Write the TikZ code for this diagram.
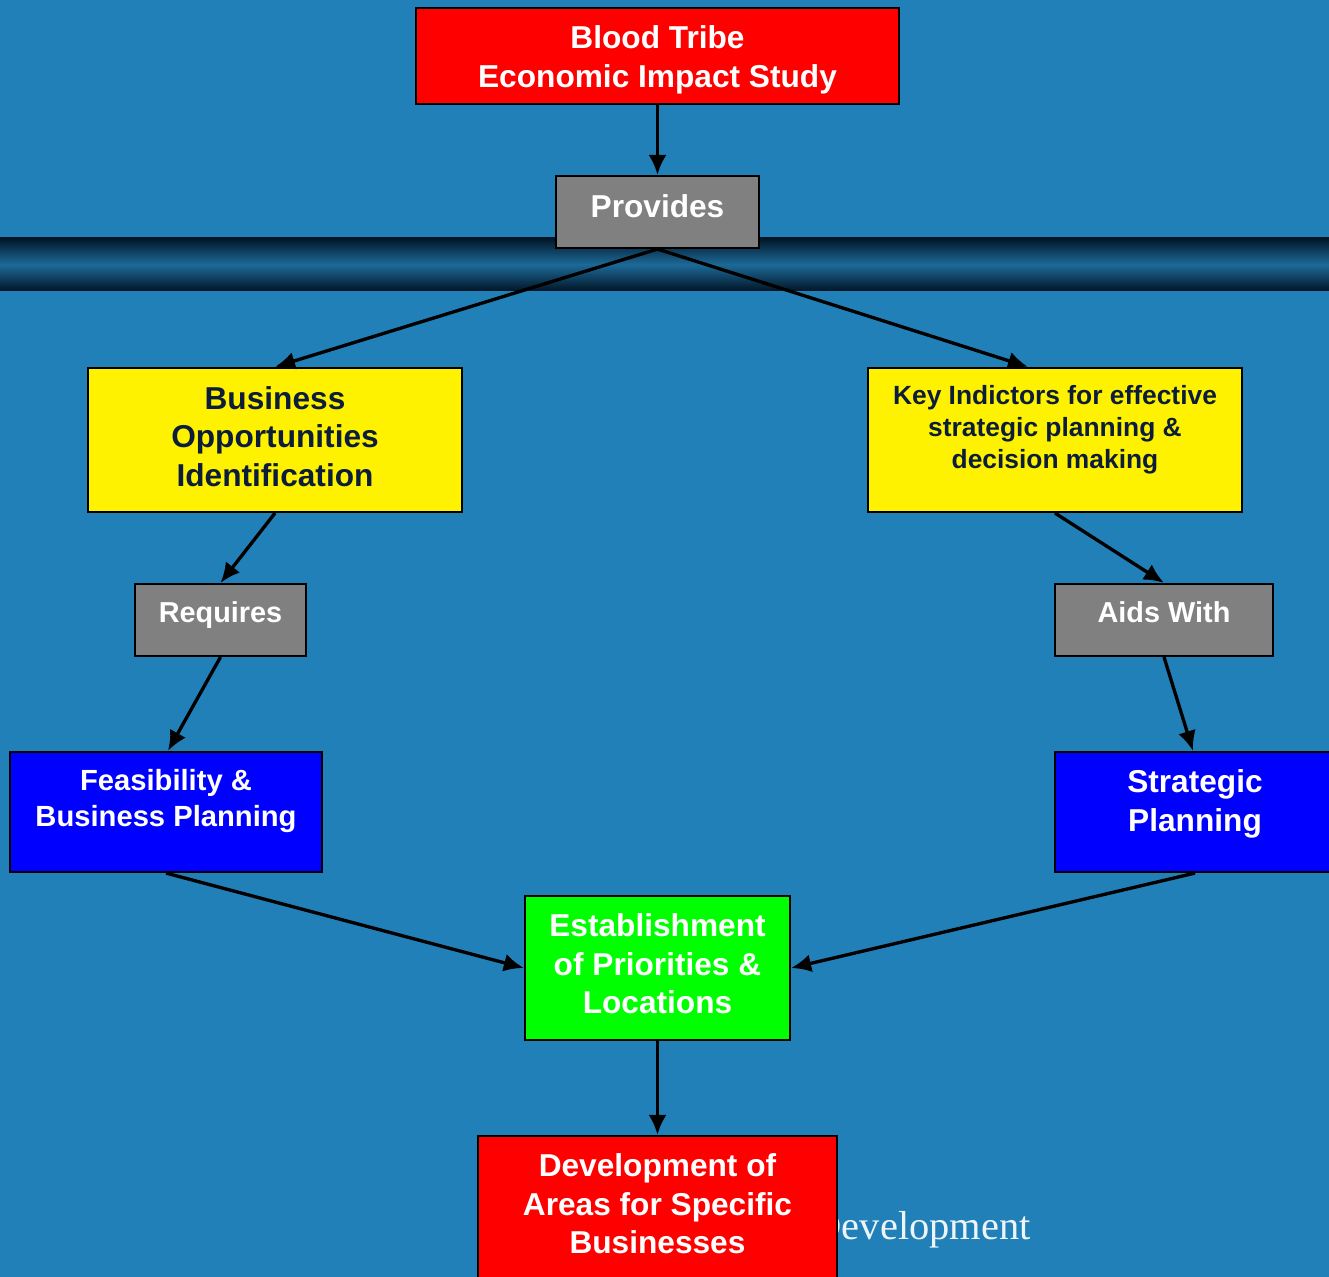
\documentclass[tikz,border=0pt]{standalone}
\usepackage{fontspec}
\setmainfont{Liberation Sans}
\newfontfamily\serifword{Liberation Serif}
\usetikzlibrary{arrows.meta}

\definecolor{bgblue}{HTML}{2180B8}
\definecolor{banddark}{HTML}{021526}
\definecolor{bandmid}{HTML}{1C6A99}
\definecolor{navy}{HTML}{0B1D3A}
\definecolor{boxgray}{HTML}{808080}

\begin{document}
\begin{tikzpicture}[x=0.01cm,y=-0.01cm,
        box/.style={draw=black,line width=0.6pt,inner sep=0pt},
        txt/.style={font=\bfseries\fontsize{9}{11}\selectfont,align=center,text=white},
        link/.style={line width=0.95pt,-{Latex[length=0.2cm,width=0.18cm]}}]
        \useasboundingbox (0,0) rectangle (1329,1277);
        \clip (0,0) rectangle (1329,1277);
        \fill[bgblue] (0,0) rectangle (1329,1277);
        \shade[top color=banddark,bottom color=banddark,middle color=bandmid] (0,238) rectangle (1329,291);
        \node[font=\serifword\fontsize{11.5}{13}\selectfont,text=white!92!bgblue,anchor=base east] (devword) at (1043,1240) {Development};

        \node[box,fill=red,minimum width=4.83cm,minimum height=0.96cm] (study) at (657.5,56) {};
        \node[box,fill=boxgray,minimum width=2.03cm,minimum height=0.72cm] (provides) at (657.5,212) {};
        \node[box,fill=yellow,minimum width=3.74cm,minimum height=1.44cm] (bizopp) at (275,440) {};
        \node[box,fill=yellow,minimum width=3.74cm,minimum height=1.44cm] (keyind) at (1055,440) {};
        \node[box,fill=boxgray,minimum width=1.71cm,minimum height=0.72cm] (requires) at (220.5,620) {};
        \node[box,fill=boxgray,minimum width=2.18cm,minimum height=0.72cm] (aids) at (1164,620) {};
        \node[box,fill=blue,minimum width=3.12cm,minimum height=1.2cm] (feas) at (166,812) {};
        \node[box,fill=blue,minimum width=2.76cm,minimum height=1.2cm] (strat) at (1193,812) {};
        \node[box,fill=green,minimum width=2.65cm,minimum height=1.44cm] (estab) at (657.5,968) {};
        \node[box,fill=red,minimum width=3.58cm,minimum height=1.5cm] (devareas) at (657.5,1211) {};

        \node[txt] (studytxt) at (657.5,59.5) {Blood Tribe\\Economic Impact Study};
        \node[txt] (providestxt) at (657.5,206) {Provides};
        \node[txt,text=navy] (bizopptxt) at (275,436.5) {Business\\Opportunities\\Identification};
        \node[txt,text=navy,font=\bfseries\fontsize{7.5}{9.1}\selectfont] (keyindtxt) at (1055,430) {Key Indictors for effective\\strategic planning \&\\decision making};
        \node[txt,font=\bfseries\fontsize{8.2}{10}\selectfont] (requirestxt) at (220.5,615) {Requires};
        \node[txt,font=\bfseries\fontsize{8.2}{10}\selectfont] (aidstxt) at (1164,612) {Aids With};
        \node[txt,font=\bfseries\fontsize{8.3}{10.2}\selectfont] (feastxt) at (166,801) {Feasibility \&\\Business Planning};
        \node[txt] (strattxt) at (1195,804) {Strategic\\Planning};
        \node[txt] (estabtxt) at (657.5,964) {Establishment\\of Priorities \&\\Locations};
        \node[txt] (devareastxt) at (657.5,1204) {Development of\\Areas for Specific\\Businesses};

        \draw[link] (study.south) -- (provides.north);
        \draw[link] (provides.south) -- (bizopp.north);
        \draw[link] (provides.south) -- ([xshift=-0.27cm]keyind.north);
        \draw[link] (bizopp.south) -- (requires.north);
        \draw[link] (requires.south) -- ([xshift=0.02cm]feas.north);
        \draw[link] (keyind.south) -- (aids.north);
        \draw[link] (aids.south) -- (strat.north);
        \draw[link] (feas.south) -- (estab.west);
        \draw[link] ([xshift=0.02cm]strat.south) -- (estab.east);
        \draw[link] (estab.south) -- (devareas.north);
\end{tikzpicture}
\end{document}
